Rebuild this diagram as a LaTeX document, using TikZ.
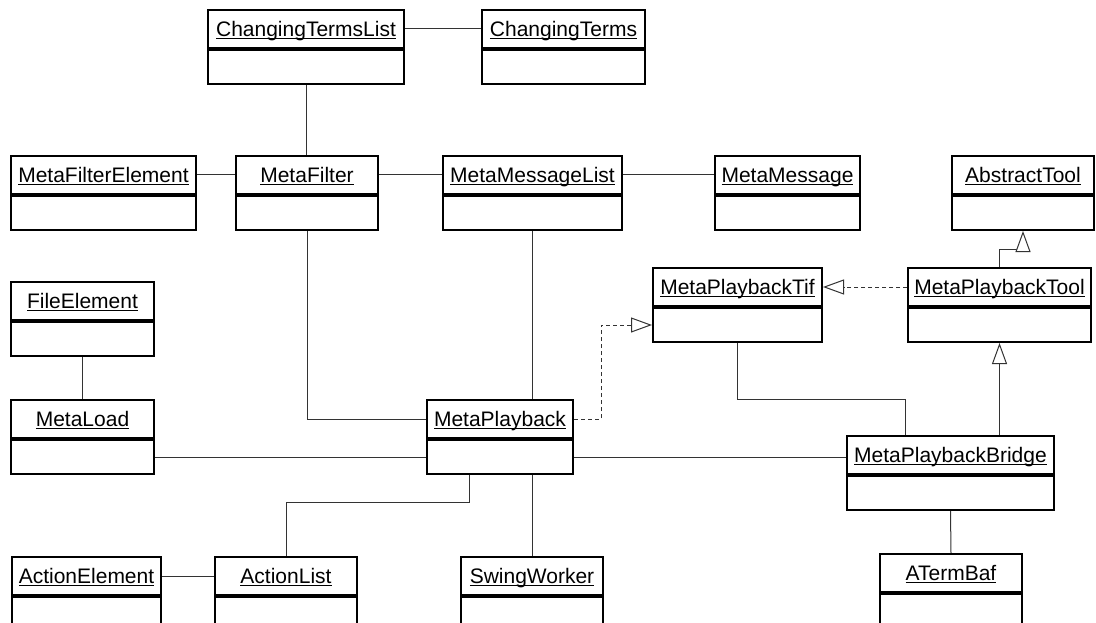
\documentclass[tikz,border=0pt]{standalone}
\usepackage{fontspec}
\setmainfont{Liberation Sans}
\usetikzlibrary{arrows.meta,calc}

% class name, underlined at a fixed depth (descenders cross the rule)
\newcommand\clsname[1]{\setbox0\hbox{#1}\rlap{\rule[-2.6pt]{\wd0}{1.3pt}}\box0}

\tikzset{
  clshead/.style={draw, line width=2pt, minimum height=38pt, inner sep=0pt,
    text height=16pt, text depth=1pt, font=\fontsize{21}{24}\selectfont, anchor=north},
  clsbody/.style={draw, line width=2pt, minimum height=34pt, inner sep=0pt, anchor=north},
  assoc/.style={line width=1pt, draw=black!80},
  inherit/.style={assoc, -{Triangle[open, length=21pt, width=15pt, fill=white]}},
  realize/.style={inherit, dash pattern=on 4pt off 3pt},
}

% #1 name, #2 centre x, #3 top y, #4 width, #5 label
\newcommand\umlclass[5]{%
  \node[clshead, minimum width=#4pt] (#1) at (#2,#3) {\clsname{#5}};
  \node[clsbody, minimum width=#4pt] (#1-b) at (#1.south) {};
}

\begin{document}
\begin{tikzpicture}[x=1pt, y=-1pt]
\fill[white] (0,0) rectangle (1096,623);
\useasboundingbox (0,0) rectangle (1096,623);
\clip (0,0) rectangle (1096,623);

\umlclass{ctl}{306}{9}{196}{ChangingTermsList}
\umlclass{ct}{563.5}{9}{163}{ChangingTerms}

\umlclass{mfe}{103.5}{155}{185}{MetaFilterElement}
\umlclass{mf}{307}{155}{142}{MetaFilter}
\umlclass{mml}{532.5}{155}{179}{MetaMessageList}
\umlclass{mm}{787.5}{155}{145}{MetaMessage}
\umlclass{at}{1023}{155}{142}{AbstractTool}

\umlclass{fe}{82.5}{281}{143}{FileElement}
\umlclass{mptif}{737.5}{267}{169}{MetaPlaybackTif}
\umlclass{mptool}{999.5}{267}{183}{MetaPlaybackTool}

\umlclass{ml}{82.5}{399}{143}{MetaLoad}
\umlclass{mp}{500}{399}{146}{MetaPlayback}
\umlclass{mpb}{950.5}{435}{207}{MetaPlaybackBridge}

\umlclass{ae}{86.5}{556}{149}{ActionElement}
\umlclass{al}{286}{556}{142}{ActionList}
\umlclass{sw}{532}{556}{142}{SwingWorker}
\umlclass{atb}{951}{553}{142}{ATermBaf}

% associations
\draw[assoc] (ctl) -- (ct);
\draw[assoc] (ctl-b.south) -- (ctl-b.south |- mf.north);
\draw[assoc] (mfe) -- (mf);
\draw[assoc] (mf) -- (mml);
\draw[assoc] (mml) -- (mm);
\draw[assoc] (mml-b.south) -- (mml-b.south |- mp.north);
\draw[assoc] (mf-b.south) |- (mp.west);
\draw[assoc] (fe-b.south) -- (ml.north);
\draw[assoc] (ml-b.east) -- (ml-b.east -| mp-b.west);
\draw[assoc] (mp-b.east) -- (mp-b.east -| mpb.west);
\draw[assoc] (mptif-b.south) -- ++(0,56) -| ([xshift=-45.5pt]mpb.north);
\draw[assoc] ([xshift=-31pt]mp-b.south) -- ++(0,27) -| (al.north);
\draw[assoc] (sw.north |- mp-b.south) -- (sw.north);
\draw[assoc] (ae) -- (al);
\draw[assoc] (mpb-b.south) -- (atb.north);

% realizations and generalizations
\draw[realize] (mp.east) -- ++(27,0) |- (mptif-b.west);
\draw[realize] (mptool) -- (mptif);
\draw[inherit] (mptool.north) -- ++(0,-18) -| (at-b.south);
\draw[inherit] (mptool-b.south |- mpb.north) -- (mptool-b.south);
\end{tikzpicture}
\end{document}
